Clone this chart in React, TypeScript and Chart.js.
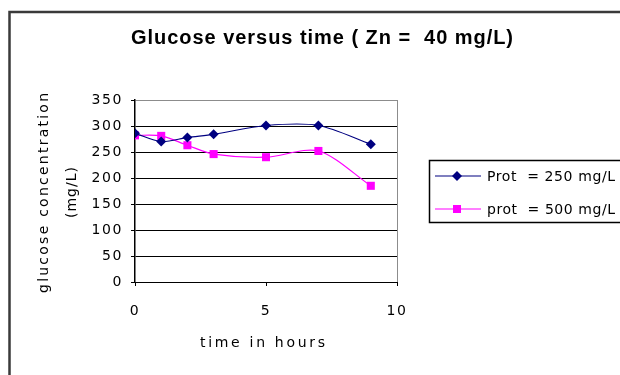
import React, { useEffect, useRef } from 'react';
import { Chart, registerables } from 'chart.js';

Chart.register(...registerables);

const chartTitle = 'Glucose versus time ( Zn =  40 mg/L)';
const xAxisTitle = 'time in hours';
const yAxisTitle = ['glucose concentration', '(mg/L)'];
const timeHours = [0, 1, 2, 3, 5, 7, 9];
const prot250 = [286, 270, 278, 284, 301, 301, 265];
const prot500 = [282, 281, 263, 246, 240, 252, 185];
const seriesLabels = ['Prot  = 250 mg/L', 'prot  = 500 mg/L'];
const yTickValues = [0, 50, 100, 150, 200, 250, 300, 350];
const xTickValues = [0, 5, 10];

const TITLE_FONT = '"Liberation Sans", Arial, sans-serif';
const FONT = '"DejaVu Sans", "Liberation Sans", sans-serif';
const BLUE = '#000080';
const PINK = '#FF00FF';

function drawMarker(ctx: CanvasRenderingContext2D, style: string, x: number, y: number, r: number, color: string) {
  ctx.fillStyle = color;
  ctx.beginPath();
  if (style === 'rectRot') {
    ctx.moveTo(x - r, y);
    ctx.lineTo(x, y - r);
    ctx.lineTo(x + r, y);
    ctx.lineTo(x, y + r);
    ctx.closePath();
  } else {
    ctx.rect(x - r, y - r, 2 * r, 2 * r);
  }
  ctx.fill();
}

// draw text stretched (by letter spacing) to a given width, starting at left x
function fitText(ctx: any, text: string, left: number, y: number, width: number) {
  ctx.letterSpacing = '0px';
  const w = ctx.measureText(text).width;
  const sp = (width - w) / Math.max(1, text.length - 1);
  ctx.letterSpacing = `${sp}px`;
  ctx.textAlign = 'left';
  ctx.fillText(text, left, y);
  ctx.letterSpacing = '0px';
}

const decorPlugin = {
  id: 'decor',
  beforeDraw(chart: any) {
    const ctx = chart.ctx as any;
    ctx.save();
    ctx.fillStyle = '#fff';
    ctx.fillRect(0, 0, chart.width, chart.height);
    ctx.restore();
    ctx.letterSpacing = '1.6px';
  },
  afterDraw(chart: any) {
    const ctx = chart.ctx as any;
    const area = chart.chartArea;
    ctx.save();
    // outer border
    ctx.strokeStyle = '#3a3a3a';
    ctx.lineWidth = 2.5;
    ctx.beginPath();
    ctx.moveTo(9.5, chart.height + 5);
    ctx.lineTo(9.5, 12);
    ctx.lineTo(chart.width + 5, 12);
    ctx.stroke();

    // title
    ctx.fillStyle = '#000';
    ctx.textBaseline = 'middle';
    ctx.font = `bold 20px ${TITLE_FONT}`;
    fitText(ctx, chartTitle, 131, 38, 382);

    // x title
    ctx.font = `14px ${FONT}`;
    fitText(ctx, xAxisTitle, 200, 343, 125);

    // y title
    ctx.save();
    ctx.translate(44, 193);
    ctx.rotate(-Math.PI / 2);
    fitText(ctx, yAxisTitle[0], -100, 0, 200);
    fitText(ctx, yAxisTitle[1], -25, 28, 51);
    ctx.restore();

    // legend
    const lx = 429;
    const ly = 160;
    ctx.strokeStyle = '#000';
    ctx.lineWidth = 1.5;
    ctx.strokeRect(lx + 0.5, ly + 0.5, 230, 62);
    const rows = [
      { label: seriesLabels[0], color: BLUE, style: 'rectRot', r: 5, y: 176 },
      { label: seriesLabels[1], color: PINK, style: 'rect', r: 4, y: 209 },
    ];
    ctx.font = `14px ${FONT}`;
    rows.forEach((row) => {
      ctx.strokeStyle = row.color;
      ctx.lineWidth = 1.2;
      ctx.beginPath();
      ctx.moveTo(435, row.y);
      ctx.lineTo(481, row.y);
      ctx.stroke();
      drawMarker(ctx, row.style, 457, row.y, row.r, row.color);
      ctx.fillStyle = '#000';
      fitText(ctx, row.label, 487, row.y + 1, 128);
    });
    ctx.restore();
    ctx.letterSpacing = '0px';
  },
};

export default function App() {
  const canvasRef = useRef<HTMLCanvasElement | null>(null);

  useEffect(() => {
    const canvas = canvasRef.current;
    if (!canvas) return;
    const chart = new Chart(canvas, {
      type: 'line',
      data: {
        datasets: [
          {
            label: seriesLabels[0],
            data: timeHours.map((t, i) => ({ x: t, y: prot250[i] })),
            borderColor: BLUE,
            backgroundColor: BLUE,
            borderWidth: 1.2,
            pointStyle: 'rectRot',
            pointRadius: 5,
            pointBorderWidth: 0,
            tension: 0.3,
          },
          {
            label: seriesLabels[1],
            data: timeHours.map((t, i) => ({ x: t, y: prot500[i] })),
            borderColor: PINK,
            backgroundColor: PINK,
            borderWidth: 1.2,
            pointStyle: 'rect',
            pointRadius: 5.7,
            pointBorderWidth: 0,
            tension: 0.3,
          },
        ],
      },
      options: {
        responsive: false,
        animation: false,
        devicePixelRatio: 1,
        layout: { padding: { left: 0, top: 100, right: 223, bottom: 0 } },
        plugins: {
          legend: { display: false },
          title: { display: false },
          tooltip: { enabled: false },
        },
        scales: {
          x: {
            type: 'linear',
            min: 0,
            max: 10,
            afterFit: (scale: any) => {
              scale.height = 93;
            },
            afterBuildTicks: (scale: any) => {
              scale.ticks = xTickValues.map((v) => ({ value: v }));
            },
            ticks: {
              color: '#000',
              font: { family: FONT, size: 14 },
              padding: 17,
              maxRotation: 0,
            },
            grid: {
              drawOnChartArea: true,
              color: (c: any) => (c.tick && c.tick.value === 10 ? '#8c8c8c' : 'rgba(0,0,0,0)'),
              tickColor: '#000',
              tickLength: 4,
              lineWidth: 1,
            },
            border: { display: true, color: '#000', width: 1 },
          },
          y: {
            type: 'linear',
            min: 0,
            max: 350,
            afterFit: (scale: any) => {
              scale.width = 135;
            },
            afterBuildTicks: (scale: any) => {
              scale.ticks = yTickValues.map((v) => ({ value: v }));
            },
            ticks: {
              color: '#000',
              font: { family: FONT, size: 14 },
              padding: 8,
            },
            grid: {
              color: (c: any) => (c.tick && c.tick.value === 350 ? '#8c8c8c' : '#000'),
              tickColor: '#000',
              tickLength: 4,
              lineWidth: 1,
            },
            border: { display: true, color: '#000', width: 1.5 },
          },
        },
      },
      plugins: [decorPlugin],
    });
    return () => chart.destroy();
  }, []);

  return (
    <div style={{ position: 'fixed', left: 0, top: 0, width: 620, height: 375, background: '#fff' }}>
      <canvas ref={canvasRef} width={620} height={375} style={{ display: 'block' }} />
    </div>
  );
}
